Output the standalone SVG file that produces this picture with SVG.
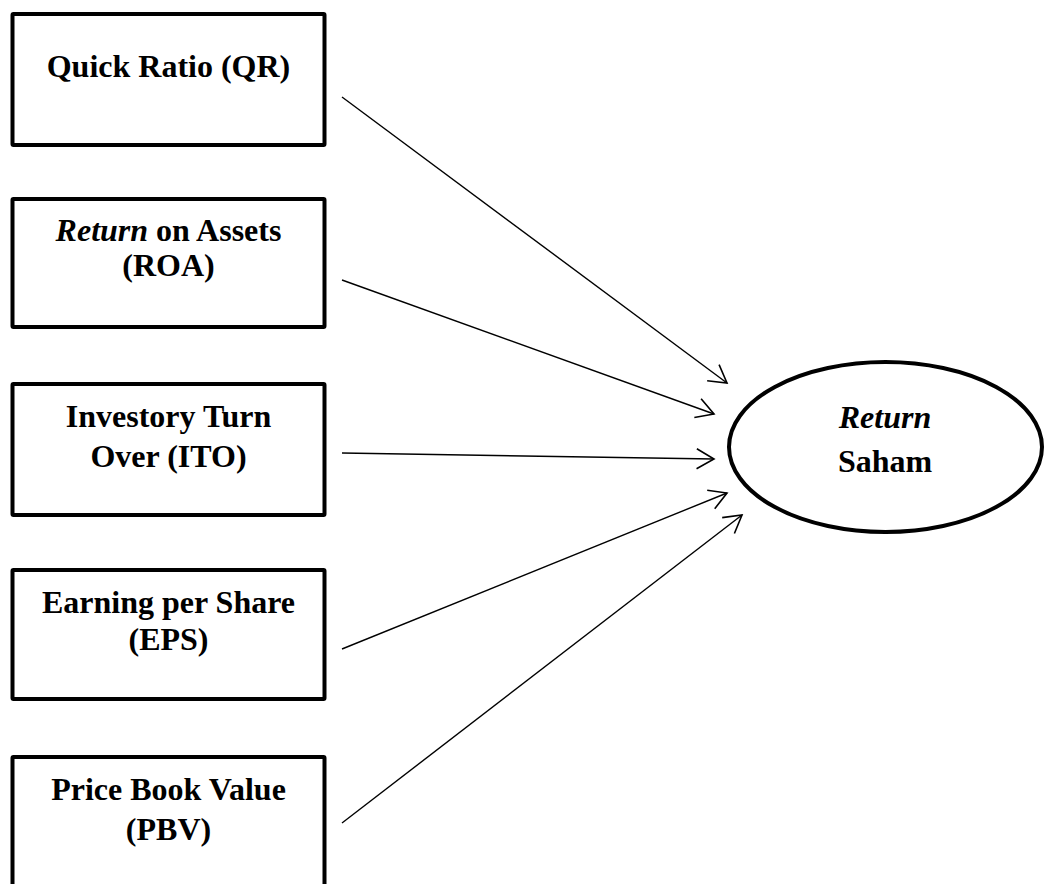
<svg xmlns="http://www.w3.org/2000/svg" width="1045" height="884" viewBox="0 0 1045 884">
<style>
.box{fill:#fff;stroke:#000;stroke-width:4;}
.t{font-family:"Liberation Serif","Times New Roman",serif;font-weight:bold;font-size:32px;fill:#000;text-anchor:middle;}
.i{font-style:italic;}
.conn line{stroke:#000;stroke-width:1.4;fill:none;}
</style>
<defs>
<marker id="arr" markerUnits="userSpaceOnUse" markerWidth="30" markerHeight="30" viewBox="-25 -15 30 30" refX="0" refY="0" orient="auto" overflow="visible">
<path d="M-17.3,-10 L0,0 L-17.3,10" fill="none" stroke="#000" stroke-width="1.6"/>
</marker>
</defs>
<rect width="1045" height="884" fill="#fff"/>
<g id="conn" class="conn">
<line x1="342" y1="97" x2="727" y2="383" marker-end="url(#arr)"/>
<line x1="342" y1="280" x2="714" y2="414" marker-end="url(#arr)"/>
<line x1="342" y1="453" x2="714" y2="459" marker-end="url(#arr)"/>
<line x1="342" y1="649" x2="727" y2="493" marker-end="url(#arr)"/>
<line x1="342" y1="823" x2="742" y2="515" marker-end="url(#arr)"/>
</g>
<g id="qr">
<rect class="box" x="12.5" y="14" width="312" height="131" rx="1"/>
<text class="t" x="168.5" y="77">Quick Ratio (QR)</text>
</g>
<g id="roa">
<rect class="box" x="12.5" y="199" width="312" height="128" rx="1"/>
<text class="t" x="168.5" y="241"><tspan class="i">Return</tspan> on Assets</text>
<text class="t" x="168.5" y="276">(ROA)</text>
</g>
<g id="ito">
<rect class="box" x="12.5" y="384" width="312" height="131" rx="1"/>
<text class="t" x="168.5" y="427">Investory Turn</text>
<text class="t" x="168.5" y="467">Over (ITO)</text>
</g>
<g id="eps">
<rect class="box" x="12.5" y="570" width="312" height="129" rx="1"/>
<text class="t" x="168.5" y="613">Earning per Share</text>
<text class="t" x="168.5" y="650">(EPS)</text>
</g>
<g id="pbv">
<rect class="box" x="12.5" y="757" width="312" height="131" rx="1"/>
<text class="t" x="168.5" y="800">Price Book Value</text>
<text class="t" x="168.5" y="840">(PBV)</text>
</g>
<g id="return-saham">
<ellipse class="box" cx="885.5" cy="447" rx="156.5" ry="85"/>
<text class="t i" x="885" y="428">Return</text>
<text class="t" x="885" y="472">Saham</text>
</g>
</svg>
